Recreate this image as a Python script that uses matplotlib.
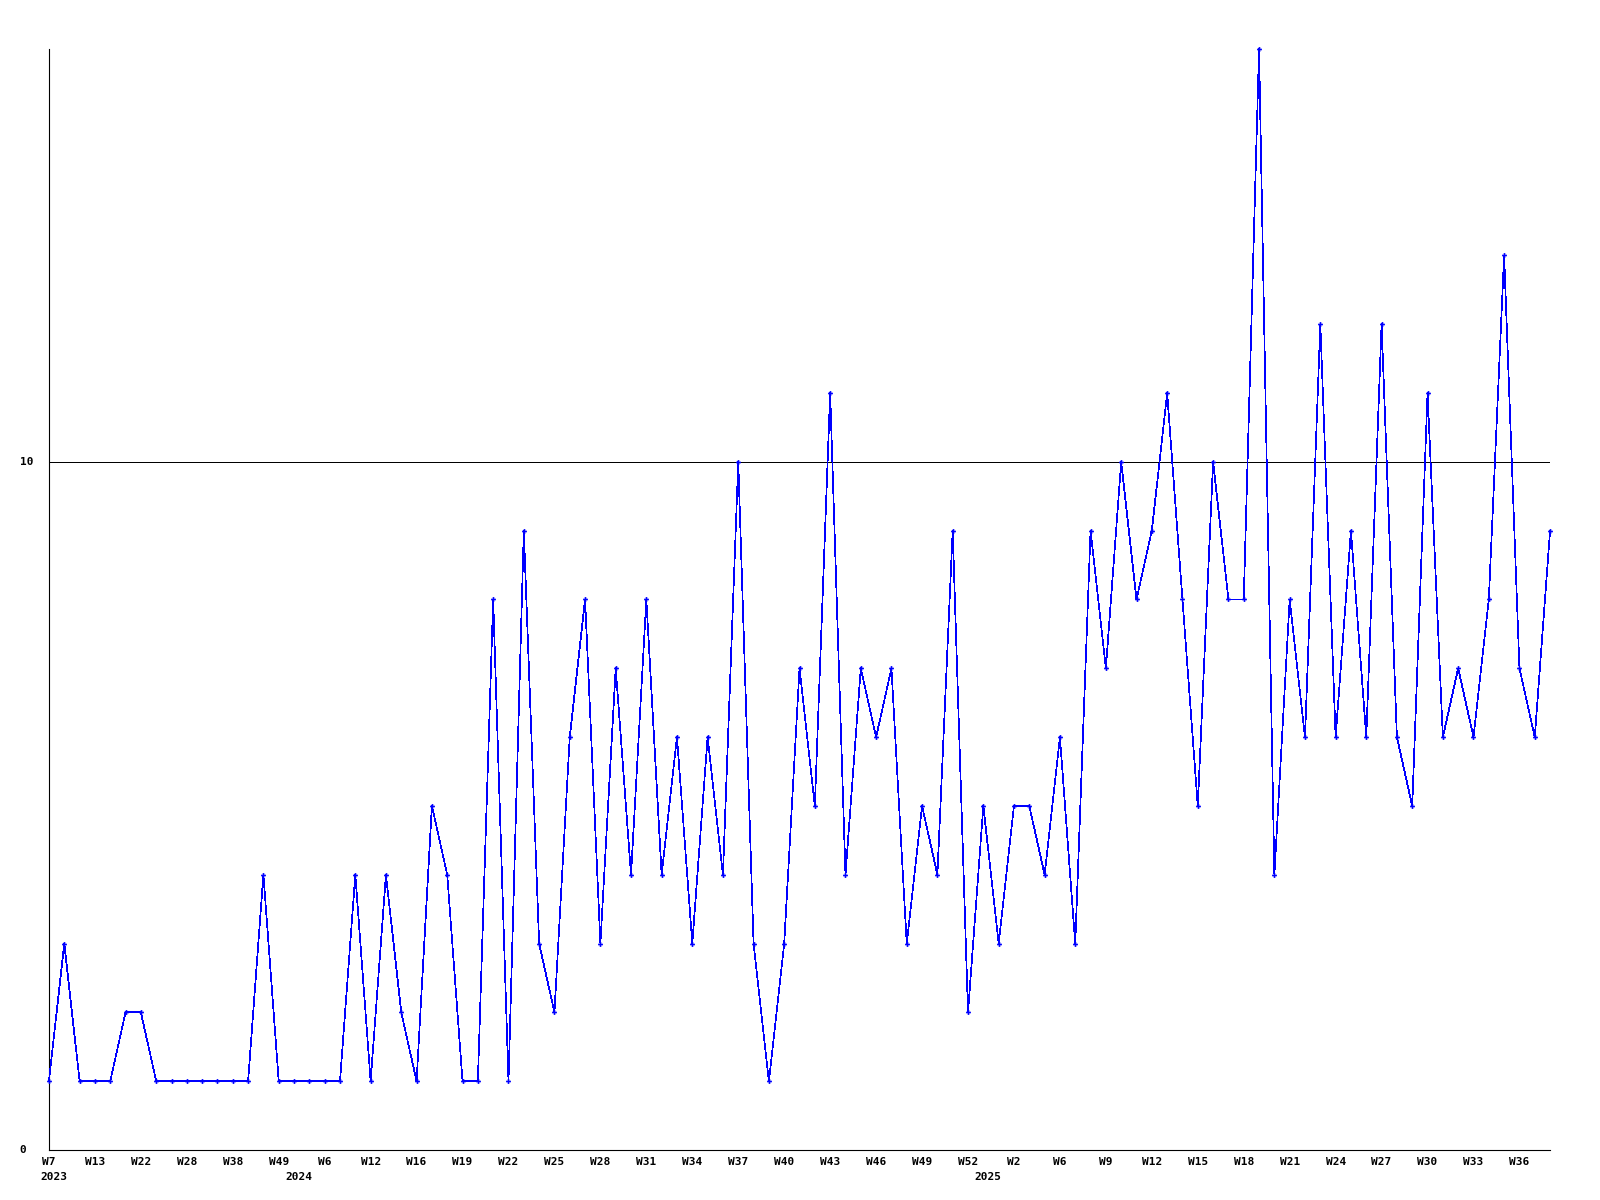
import matplotlib
matplotlib.use("Agg")
import matplotlib.pyplot as plt

# weekly counts, one per data point (weeks without data are skipped)
counts = [1, 3, 1, 1, 1, 2, 2, 1, 1, 1, 1, 1, 1, 1, 4, 1, 1, 1, 1, 1,
          4, 1, 4, 2, 1, 5, 4, 1, 1, 8, 1, 9, 3, 2, 6, 8, 3, 7, 4, 8,
          4, 6, 3, 6, 4, 10, 3, 1, 3, 7, 5, 11, 4, 7, 6, 7, 3, 5, 4, 9,
          2, 5, 3, 5, 5, 4, 6, 3, 9, 7, 10, 8, 9, 11, 8, 5, 10, 8, 8, 16,
          4, 8, 6, 12, 6, 9, 6, 12, 6, 5, 11, 6, 7, 6, 8, 13, 7, 6, 9]

# every third point gets a week label
week_labels = ["W7", "W13", "W22", "W28", "W38", "W49", "W6", "W12", "W16", "W19",
               "W22", "W25", "W28", "W31", "W34", "W37", "W40", "W43", "W46", "W49",
               "W52", "W2", "W6", "W9", "W12", "W15", "W18", "W21", "W24", "W27",
               "W30", "W33", "W36"]
years = ["2023", "2024", "2025"]
year_start = [0, 16, 61]  # index of first point in each year

ref_level = 10
y_max = 16

x = list(range(len(counts)))

fig = plt.figure(figsize=(16, 12), dpi=100)
ax = fig.add_axes([0.0306, 0.0417, 0.9382, 0.9175])

ax.plot(x, counts, color="#0000ff", lw=0.5, marker="P", ms=3.5,
        mew=0, antialiased=False, clip_on=False, zorder=3)
ax.axhline(ref_level, color="black", lw=0.6, antialiased=False, zorder=2)

ax.set_xlim(0, len(counts) - 1)
ax.set_ylim(0, y_max)
for s in ["top", "right"]:
    ax.spines[s].set_visible(False)
for s in ["left", "bottom"]:
    ax.spines[s].set_linewidth(0.8)
ax.set_xticks([])
ax.set_yticks([])

font = dict(family="DejaVu Sans Mono", fontsize=8, fontweight="bold")
ytr = ax.get_yaxis_transform()
# y labels sit at the far left of the figure
for v in [0, ref_level]:
    ax.text(-0.0195, v, str(v), transform=ytr, ha="left", va="center", **font)

xtr = ax.get_xaxis_transform()
for i, lab in zip(range(0, len(counts), 3), week_labels):
    ax.text(i, -0.0105, lab, transform=xtr, ha="center", va="center", **font)
for i, lab in zip(year_start, years):
    ax.text(i + 0.3, -0.0245, lab, transform=xtr, ha="center", va="center", **font)

fig.savefig("out.png", dpi=100)
